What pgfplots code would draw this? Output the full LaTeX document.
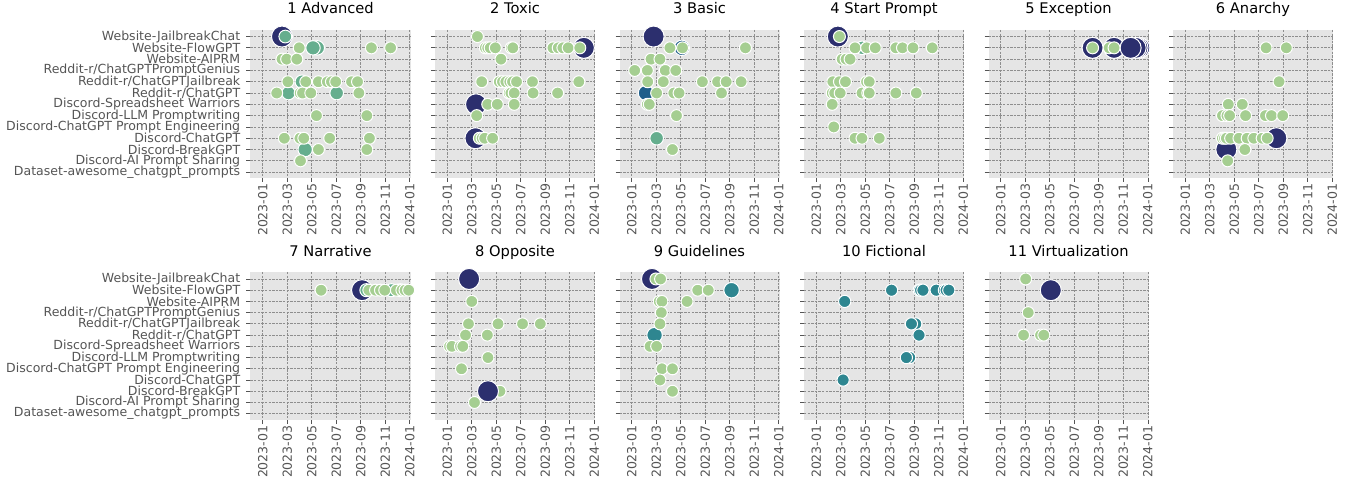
\documentclass[border=0pt]{standalone}
\usepackage{pgfplots}
\pgfplotsset{compat=1.18}
\usepackage{fontspec}
\setmainfont{DejaVu Sans}

\definecolor{bg}{HTML}{E5E5E5}
\definecolor{lg}{HTML}{A5CE91}
\definecolor{md}{HTML}{65AE8E}
\definecolor{tl}{HTML}{2E8690}
\definecolor{bl}{HTML}{1F5E8A}
\definecolor{nv}{HTML}{2C2F6E}
\definecolor{tk}{HTML}{555555}
\definecolor{gr}{HTML}{8E8E8E}

% x = months since 2023-01-01, y = source index (0 at top)
\pgfplotsset{
  panel/.style={
    scale only axis, width=120pt, height=111pt, anchor=south west,
    xmin=-1, xmax=12.05, ymin=-0.58, ymax=12.52, y dir=reverse,
    axis background/.style={fill=bg},
    axis line style={draw=none},
    xtick={0,2,...,12},
    xticklabels={2023-01,2023-03,2023-05,2023-07,2023-09,2023-11,2024-01},
    x tick label style={rotate=90, anchor=east, inner sep=1pt},
    ytick={0,...,12}, yticklabels={},
    y tick label style={xshift=-1.2pt},
    tick align=outside, xtick pos=bottom, ytick pos=left,
    major tick length=3pt,
    tick style={color=tk, line width=0.6pt},
    ticklabel style={font=\fontsize{9.4pt}{11pt}\selectfont, text=tk},
    grid=major,
    major grid style={gr, line width=0.6pt, dash pattern=on 1.8pt off 0.9pt},
    title style={font=\fontsize{11pt}{13pt}\selectfont, at={(0.5,1)}, anchor=base, yshift=6pt},
  },
  srcnames/.style={yticklabels={Website-JailbreakChat,Website-FlowGPT,Website-AIPRM,
    Reddit-r/ChatGPTPromptGenius,Reddit-r/ChatGPTJailbreak,Reddit-r/ChatGPT,
    Discord-Spreadsheet Warriors,Discord-LLM Promptwriting,Discord-ChatGPT Prompt Engineering,
    Discord-ChatGPT,Discord-BreakGPT,Discord-AI Prompt Sharing,Dataset-awesome\_chatgpt\_prompts}},
  lg/.style={only marks, mark=*, mark size=4.5pt, mark options={fill=lg, draw=white, line width=0.75pt}},
  nv/.style={only marks, mark=*, mark size=7.9pt, mark options={fill=nv, draw=white, line width=0.75pt}},
  md/.style={only marks, mark=*, mark size=#1, mark options={fill=md, draw=white, line width=0.75pt}},
  md/.default=5.1pt,
  tl/.style={only marks, mark=*, mark size=#1, mark options={fill=tl, draw=white, line width=0.75pt}},
  tl/.default=4.6pt,
  bl/.style={only marks, mark=*, mark size=5.8pt, mark options={fill=bl, draw=white, line width=0.75pt}},
}

\begin{document}
\begin{tikzpicture}
\useasboundingbox (0,0) rectangle (1011.75pt,361.5pt);

% ---------- row 1 ----------
\begin{axis}[panel, srcnames, at={(187.875pt,228pt)}, title={1 Advanced}]
\addplot[nv] coordinates {(1.57,0)};
\addplot[md=4.8pt] coordinates {(1.84,0)};
\addplot[md=5.4pt] coordinates {(4.45,1) (4.1,1) (3.46,10)};
\addplot[md] coordinates {(3.19,4) (2.1,5) (6.03,5)};
\addplot[lg] coordinates {
  (2.97,1) (8.86,1) (10.43,1)
  (1.57,2) (1.95,2) (2.78,2)
  (2.05,4) (3.51,4) (4.54,4) (5.27,4) (5.6,4) (5.95,4) (7.24,4) (7.73,4)
  (1.14,5) (3.05,5) (3.24,5) (3.92,5) (7.84,5)
  (4.38,7) (8.49,7)
  (1.76,9) (3.03,9) (3.35,9) (5.46,9) (8.7,9)
  (4.54,10) (8.49,10)
  (3.08,11)};
\end{axis}

\begin{axis}[panel, at={(326.25pt,228pt)}, title={2 Toxic}]
\addplot[nv] coordinates {(11.14,1) (2.35,6) (2.3,9)};
\addplot[lg] coordinates {
  (2.46,0)
  (3.11,1) (3.3,1) (3.5,1) (3.92,1) (5.22,1) (5.35,1) (8.62,1) (9.05,1) (9.43,1) (9.86,1) (10.81,1)
  (4.38,2)
  (2.81,4) (4.24,4) (4.5,4) (4.78,4) (5.1,4) (5.32,4) (5.65,4) (6.95,4) (10.73,4)
  (5.05,5) (5.19,5) (5.46,5) (7.0,5) (9.0,5)
  (3.3,6) (4.08,6) (5.46,6)
  (2.4,7)
  (2.62,9) (2.84,9) (3.05,9) (3.7,9)};
\end{axis}

\begin{axis}[panel, at={(464.625pt,228pt)}, title={3 Basic}]
\addplot[nv] coordinates {(1.78,0)};
\addplot[bl] coordinates {(4.08,1) (1.16,5)};
\addplot[md] coordinates {(2.03,9)};
\addplot[lg] coordinates {
  (3.11,1) (4.14,1) (9.27,1)
  (1.57,2) (2.3,2)
  (0.24,3) (1.27,3) (2.73,3) (3.59,3)
  (1.3,4) (2.57,4) (5.76,4) (7.0,4) (7.7,4) (8.92,4)
  (2.03,5) (3.43,5) (3.86,5) (7.32,5)
  (1.27,6) (1.43,6)
  (3.65,7)
  (3.32,10)};
\end{axis}

\begin{axis}[panel, at={(603pt,228pt)}, title={4 Start Prompt}]
\addplot[nv] coordinates {(1.76,0)};
\addplot[md] coordinates {(3.75,1)};
\addplot[lg] coordinates {
  (1.89,0)
  (3.16,1) (4.11,1) (4.81,1) (6.49,1) (7.03,1) (7.89,1) (9.46,1)
  (2.11,2) (2.43,2) (2.76,2)
  (1.35,4) (1.89,4) (2.38,4) (4.1,4) (4.32,4)
  (1.3,5) (1.5,5) (1.95,5) (3.73,5) (4.2,5) (4.32,5) (6.49,5) (8.16,5)
  (1.3,6)
  (1.43,8)
  (3.16,9) (3.73,9) (5.14,9)};
\end{axis}

\begin{axis}[panel, at={(741.375pt,228pt)}, title={5 Exception}]
\addplot[nv] coordinates {(11.3,1) (11.15,1) (11.0,1) (9.24,1) (7.49,1) (10.59,1)};
\addplot[lg] coordinates {(7.49,1) (8.84,1) (9.24,1)};
\end{axis}

\begin{axis}[panel, at={(879.75pt,228pt)}, title={6 Anarchy}]
\addplot[nv] coordinates {(7.43,9) (3.35,10)};
\addplot[lg] coordinates {
  (6.59,1) (8.24,1)
  (7.65,4)
  (3.51,6) (4.65,6)
  (3.03,7) (3.4,7) (3.62,7) (4.92,7) (6.54,7) (7.03,7) (7.95,7)
  (3.03,9) (3.2,9) (3.35,9) (3.7,9) (4.38,9) (5.05,9) (5.59,9) (6.27,9) (6.68,9)
  (4.86,10)
  (3.46,11)};
\end{axis}

% ---------- row 2 ----------
\begin{axis}[panel, srcnames, ymin=-0.62, ymax=12.56, at={(187.875pt,46.5pt)}, title={7 Narrative}]
\addplot[nv] coordinates {(8.1,1)};
\addplot[md=4.9pt] coordinates {(8.45,1) (10.5,1) (11.2,1)};
\addplot[lg] coordinates {(4.76,1) (8.65,1) (9.2,1) (9.6,1) (9.95,1) (10.9,1) (11.35,1) (11.6,1) (11.9,1)};
\end{axis}

\begin{axis}[panel, ymin=-0.62, ymax=12.56, at={(326.25pt,46.5pt)}, title={8 Opposite}]
\addplot[lg] coordinates {(4.3,10)};
\addplot[nv] coordinates {(1.78,0) (3.32,10)};
\addplot[lg] coordinates {
  (2.0,2)
  (1.73,4) (4.14,4) (6.14,4) (7.59,4)
  (1.49,5) (3.27,5)
  (0.19,6) (0.38,6) (1.08,6) (1.27,6)
  (3.32,7)
  (1.16,8)
  (2.22,11)};
\end{axis}

\begin{axis}[panel, ymin=-0.62, ymax=12.56, at={(464.625pt,46.5pt)}, title={9 Guidelines}]
\addplot[lg] coordinates {(2.0,5)};
\addplot[nv] coordinates {(1.65,0)};
\addplot[tl=5.8pt] coordinates {(8.14,1) (1.86,5)};
\addplot[lg] coordinates {
  (1.97,0) (2.35,0)
  (5.38,1) (6.24,1)
  (2.24,2) (2.46,2) (4.51,2)
  (2.41,3)
  (2.3,4)
  (1.49,6) (2.03,6)
  (2.46,8) (3.32,8)
  (2.3,9)
  (3.32,10)};
\end{axis}

\begin{axis}[panel, ymin=-0.62, ymax=12.56, at={(603pt,46.5pt)}, title={10 Fictional}]
\addplot[tl] coordinates {
  (6.14,1) (8.4,1) (8.51,1) (8.7,1) (9.78,1) (10.45,1) (10.59,1) (10.81,1)
  (2.32,2)
  (8.11,4) (7.76,4)
  (8.38,5)
  (7.62,7) (7.35,7)
  (2.19,9)};
\end{axis}

\begin{axis}[panel, ymin=-0.62, ymax=12.56, at={(741.375pt,46.5pt)}, title={11 Virtualization}]
\addplot[nv] coordinates {(4.08,1)};
\addplot[lg] coordinates {(2.03,0) (2.24,3) (1.86,5) (3.24,5) (3.51,5)};
\end{axis}

\end{tikzpicture}
\end{document}
